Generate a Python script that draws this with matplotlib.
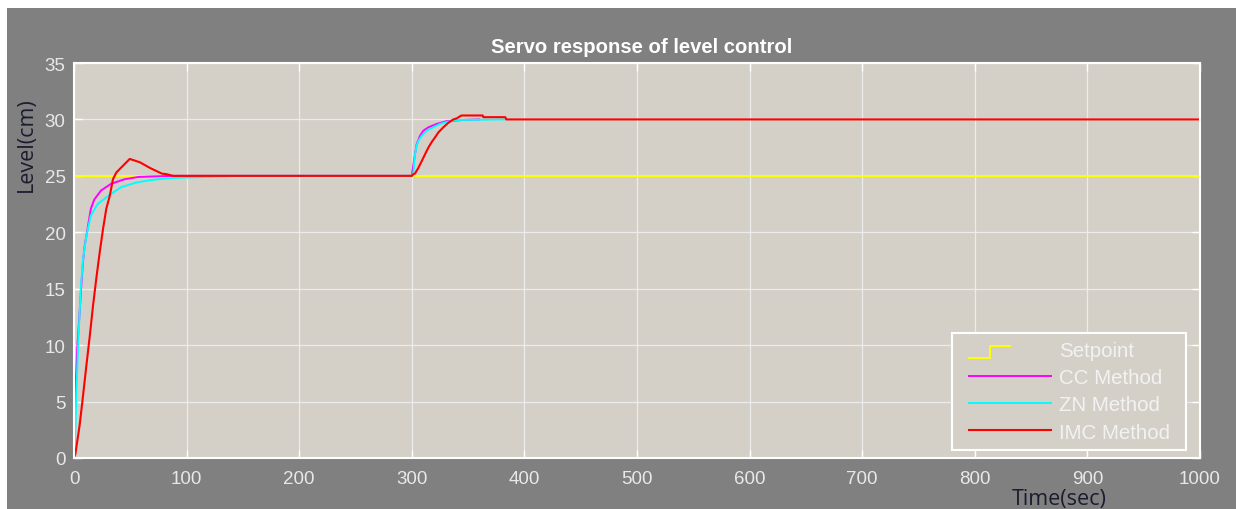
import matplotlib
matplotlib.use('Agg')
import matplotlib.pyplot as plt
from matplotlib.lines import Line2D
from matplotlib.patches import Rectangle
from matplotlib.legend_handler import HandlerBase

# Setpoint (cm)
sp_time = [0, 1000]
sp_level = [25, 25]

# CC method response
cc_time = [0, 1, 3, 5, 6.5, 8, 9.5, 12, 15, 18, 24, 33, 45, 57, 70, 88, 100, 300,
           302.8, 304.3, 307.3, 310.2, 314.7, 322, 331, 345, 360]
cc_level = [0, 5.5, 9.9, 12.9, 15.3, 17.4, 18.8, 20.3, 22.1, 22.9, 23.7, 24.3, 24.7, 24.9, 24.95, 25.0, 25.0, 25.0,
            26.9, 27.8, 28.55, 29.0, 29.3, 29.6, 29.85, 29.95, 30.0]

# ZN method response
zn_time = [0, 1, 2, 3.6, 6, 8, 11, 15, 21, 30, 42, 55, 70, 85, 101, 150, 300,
           301.4, 302.8, 304.3, 305.8, 308.8, 313.2, 319, 325, 332, 340, 384]
zn_level = [0, 1.7, 5.5, 9.9, 15.0, 17.6, 19.7, 21.5, 22.5, 23.2, 24.0, 24.4, 24.65, 24.8, 24.86, 25.0, 25.0,
            25.3, 26.9, 27.7, 28.1, 28.55, 29.0, 29.3, 29.6, 29.8, 29.95, 30.0]

# IMC method response
imc_time = [0, 1.2, 5, 8, 11, 14, 16.9, 19.8, 22.8, 25.8, 28.7, 31.7, 34.6, 37.6, 49.5, 58.6, 67.5, 78, 82, 88, 300,
            301.4, 302.8, 305.8, 308.8, 311.7, 314.7, 317.7, 320.6, 323.6, 328, 332.4, 336.9, 340, 344, 363, 363.5,
            383, 384, 1000]
imc_level = [0, 0.35, 2.9, 5.5, 8.2, 10.8, 13.5, 15.9, 18.2, 20.3, 22.1, 23.2, 24.7, 25.3, 26.5, 26.2, 25.7, 25.2,
             25.15, 25.0, 25.0, 25.15, 25.2, 25.7, 26.3, 26.9, 27.5, 28.0, 28.4, 28.85, 29.3, 29.7, 30.0, 30.1, 30.35,
             30.35, 30.2, 30.2, 30.0, 30.0]

x_ticks = list(range(0, 1001, 100))
y_ticks = list(range(0, 36, 5))

AX_BG = '#d4d0c8'
FIG_BG = '#808080'
TICK_COLOR = '#e8e8e8'


class StepHandler(HandlerBase):
    """Legend key drawn as a small step, like a step input."""
    def create_artists(self, legend, orig_handle, xdescent, ydescent,
                       width, height, fontsize, trans):
        x0 = -xdescent
        mid = height / 2 - ydescent
        lo = mid - 0.67 * height
        hi = mid + 0.17 * height
        xs = [x0, x0 + 0.26 * width, x0 + 0.26 * width, x0 + 0.5 * width]
        ys = [lo, lo, hi, hi]
        line = Line2D(xs, ys, color=orig_handle.get_color(), lw=orig_handle.get_linewidth())
        line.set_transform(trans)
        return [line]


fig = plt.figure(figsize=(12.36, 5.10), dpi=100, facecolor='white')
fig.patches.append(Rectangle((7 / 1236, 0), 1 - 7 / 1236, 1 - 9 / 510,
                             transform=fig.transFigure, facecolor=FIG_BG,
                             edgecolor='none', zorder=-10))

ax = fig.add_axes([74 / 1236, 51 / 510, 1126 / 1236, 395 / 510])
ax.set_facecolor(AX_BG)

sp_line, = ax.plot(sp_time, sp_level, color='#ffff00', lw=1.4, label='Setpoint')
ax.plot(cc_time, cc_level, color='#ff00ff', lw=1.4, label='CC Method')
ax.plot(zn_time, zn_level, color='#00ffff', lw=1.4, label='ZN Method')
ax.plot(imc_time, imc_level, color='#ff0000', lw=1.5, label='IMC Method')

ax.set_xlim(0, 1000)
ax.set_ylim(0, 35)
ax.set_xticks(x_ticks)
ax.set_yticks(y_ticks)
ax.grid(True, color='#ececec', lw=0.9)
ax.set_axisbelow(True)

for sp in ax.spines.values():
    sp.set_color('white')
    sp.set_linewidth(1.5)

ax.tick_params(direction='in', length=6, width=1, color='white',
               top=True, right=True, labelcolor=TICK_COLOR, labelsize=13.5)
ax.tick_params(axis='y', pad=6)
ax.tick_params(axis='x', pad=9)
for lbl in ax.get_xticklabels() + ax.get_yticklabels():
    lbl.set_family('Liberation Sans')

ax.set_title('Servo response of level control', color='white', fontsize=14.6,
             fontweight='bold', family='Liberation Sans', pad=8, x=0.5044)

ax.set_xlabel('Time(sec)', color='#1c1c30', fontsize=15.5, family='Open Sans')
ax.xaxis.set_label_coords(0.875, -0.075)
ax.set_ylabel('Level(cm)', color='#1c1c30', fontsize=15.5, family='Open Sans')
ax.yaxis.set_label_coords(-0.033, 0.795)

# legend box drawn separately so its padding can differ per side
ax.add_patch(Rectangle((0.7798, 0.0203), 0.2078, 0.2962, transform=ax.transAxes,
                       facecolor=AX_BG, edgecolor='white', lw=1.5, zorder=4))
leg = ax.legend(loc='lower right', bbox_to_anchor=(0.9734, 0.0413), borderaxespad=0,
                handler_map={sp_line: StepHandler()},
                prop={'family': 'Liberation Sans', 'size': 14.8},
                frameon=False, handlelength=4.0, handletextpad=0.4,
                labelspacing=0.4, borderpad=0)
leg.set_zorder(5)
for t in leg.get_texts():
    t.set_color('#f2f2f2')

fig.savefig('out.png', dpi=100, facecolor=fig.get_facecolor())
